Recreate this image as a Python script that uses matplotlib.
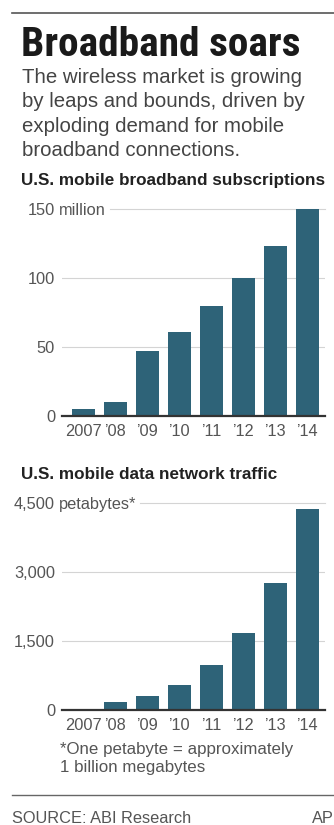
import matplotlib
matplotlib.use('Agg')
import matplotlib.pyplot as plt
from matplotlib import font_manager
from matplotlib.transforms import blended_transform_factory

W, H = 334, 825

years = ['2007', '\u201908', '\u201909', '\u201910', '\u201911', '\u201912', '\u201913', '\u201914']
subscriptions = [5, 10, 47, 61, 80, 100, 123, 150]   # millions
traffic = [30, 170, 300, 550, 970, 1670, 2770, 4370]  # petabytes

sub_ticks = [0, 50, 100, 150]
sub_ticklabels = ['0', '50', '100', '150']
traffic_ticks = [0, 1500, 3000, 4500]
traffic_ticklabels = ['0', '1,500', '3,000', '4,500']

TITLE = 'Broadband soars'
INTRO = ['The wireless market is growing',
         'by leaps and bounds, driven by',
         'exploding demand for mobile',
         'broadband connections.']
HEAD1 = 'U.S. mobile broadband subscriptions'
HEAD2 = 'U.S. mobile data network traffic'
FOOTNOTE = ['*One petabyte = approximately', '1 billion megabytes']

BAR = '#2e6378'
GRID = '#d4d4d4'
TICK = '#555555'

names = {f.name for f in font_manager.fontManager.ttflist}
BODY = 'Liberation Sans' if 'Liberation Sans' in names else 'DejaVu Sans'
if 'Roboto Condensed' in names:
    TITLE_FONT = dict(family='Roboto Condensed', weight='bold')
elif 'Liberation Sans Narrow' in names:
    TITLE_FONT = dict(family='Liberation Sans Narrow', weight='bold')
else:
    TITLE_FONT = dict(family='Roboto', weight='bold')

plt.rcParams['font.family'] = BODY


def fx(x):
    return x / W


def fy(y):
    return 1 - y / H


fig = plt.figure(figsize=(W / 100, H / 100), dpi=100)

# rules
fig.add_artist(plt.Line2D([fx(12), fx(334)], [fy(13), fy(13)], color='#555555', lw=1.2))
fig.add_artist(plt.Line2D([fx(12), fx(334)], [fy(795), fy(795)], color='#666666', lw=1.0))

fig.text(fx(21), fy(56), TITLE, fontsize=29.8, color='#1a1a1a', va='baseline', **TITLE_FONT)
for i, line in enumerate(INTRO):
    fig.text(fx(22), fy(83 + i * 24.4), line, fontsize=14.7, color='#444444', va='baseline')
fig.text(fx(21), fy(185), HEAD1, fontsize=12.3, weight='bold', color='#222222', va='baseline')
fig.text(fx(21), fy(479), HEAD2, fontsize=12.3, weight='bold', color='#222222', va='baseline')


def bar_panel(top, bottom, values, ticks, ticklabels, suffix):
    ax = fig.add_axes([fx(62), fy(bottom), fx(325) - fx(62), (bottom - top) / H])
    x = range(len(values))
    ax.bar(x, values, width=0.72, color=BAR, zorder=3)
    ax.set_xlim(-0.66, len(values) - 0.44)
    ax.set_ylim(0, ticks[-1])
    ax.set_xticks(list(x))
    ax.set_xticklabels(years)
    ax.set_yticks(ticks)
    ax.set_yticklabels(ticklabels)
    ax.tick_params(axis='both', length=0, labelsize=11.8, labelcolor=TICK)
    ax.tick_params(axis='y', pad=5)
    ax.tick_params(axis='x', pad=6)
    for s in ['top', 'right', 'left']:
        ax.spines[s].set_visible(False)
    ax.spines['bottom'].set_color('#333333')
    ax.spines['bottom'].set_linewidth(1.6)
    ax.spines['bottom'].set_zorder(4)
    ax.set_facecolor('none')

    # unit text after the top tick label, gridline starts after it
    trans = blended_transform_factory(fig.transFigure, ax.transData)
    lab = ax.text(fx(59), ticks[-1], suffix, transform=trans, fontsize=11.8,
                  color=TICK, ha='left', va='center_baseline')
    fig.canvas.draw()
    ext = lab.get_window_extent()
    ax_ext = ax.get_window_extent()
    start = (ext.x1 + 4 - ax_ext.x0) / ax_ext.width
    for t in ticks[1:-1]:
        ax.axhline(t, color=GRID, lw=0.8, zorder=1)
    ax.axhline(ticks[-1], xmin=start, color=GRID, lw=0.8, zorder=1, clip_on=False)
    return ax


bar_panel(209, 416, subscriptions, sub_ticks, sub_ticklabels, 'million')
bar_panel(503, 710, traffic, traffic_ticks, traffic_ticklabels, 'petabytes*')

for i, line in enumerate(FOOTNOTE):
    fig.text(fx(60), fy(754 + i * 18), line, fontsize=12.2, color=TICK, va='baseline')

fig.text(fx(12), fy(823), 'SOURCE: ABI Research', fontsize=11.8, color='#555555', va='baseline')
fig.text(fx(312), fy(823), 'AP', fontsize=11.8, color='#555555', va='baseline')

fig.savefig('out.png', dpi=100)
